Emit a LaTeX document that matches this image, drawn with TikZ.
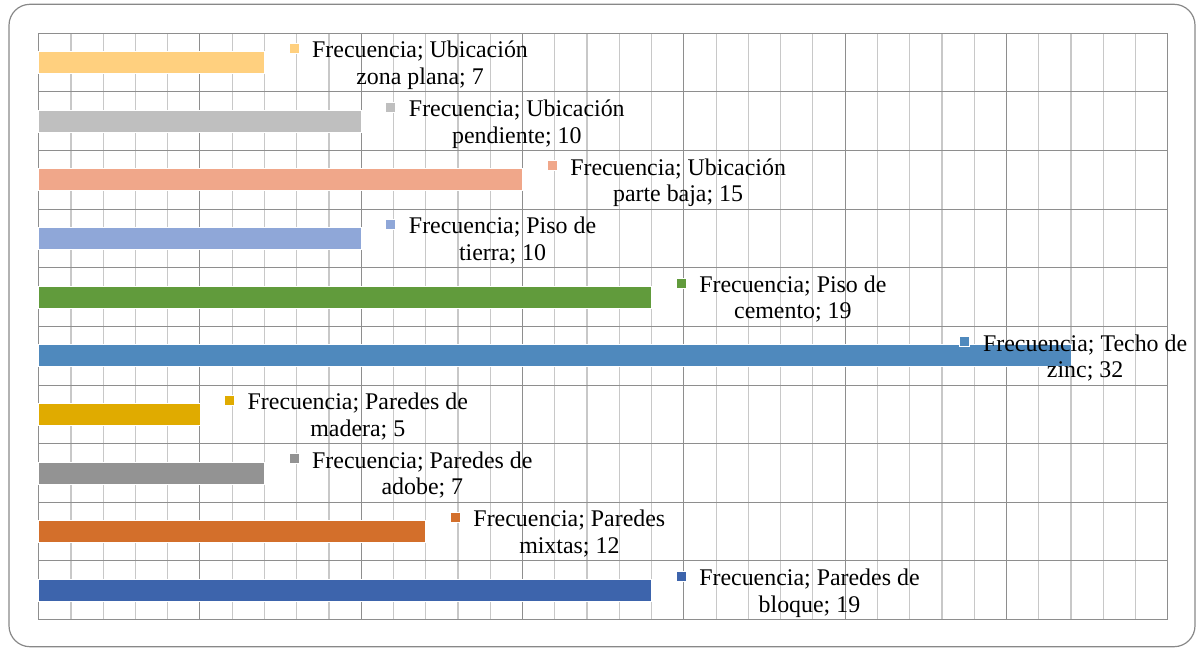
\documentclass[tikz,border=0pt]{standalone}
\usepackage{fontspec}
\setmainfont{Liberation Serif}
\usepackage{tikz}
\usetikzlibrary{positioning}
\definecolor{zonaplana}{HTML}{FFD07F}
\definecolor{pendiente}{HTML}{BFBFBF}
\definecolor{partebaja}{HTML}{F0A78A}
\definecolor{tierra}{HTML}{8FA7D8}
\definecolor{cemento}{HTML}{619B3C}
\definecolor{zinc}{HTML}{4F89BD}
\definecolor{madera}{HTML}{E0AB00}
\definecolor{adobe}{HTML}{939393}
\definecolor{mixtas}{HTML}{D36F2B}
\definecolor{bloque}{HTML}{3D64AC}
\definecolor{gridminor}{HTML}{C8C8C8}
\definecolor{gridmajor}{HTML}{8E8E8E}
\definecolor{frame}{HTML}{888888}
\newcommand{\frecuencia}[1]{\strut Frecuencia; #1\strut}

\begin{document}
\begin{tikzpicture}[x=1pt,y=-1pt,
    bar/.style={rectangle,draw=white,line width=0.8pt,minimum height=22pt,inner sep=0pt,outer sep=0pt,anchor=west},
    lbl/.style={align=center,inner sep=0pt,anchor=west,font=\fontsize{23.9}{26.5}\selectfont},
    key/.style={rectangle,draw=white,line width=0.6pt,minimum size=10pt,inner sep=0pt}]
  \useasboundingbox (0,0) rectangle (1196,648);
  \draw[frame,line width=1.2pt,rounded corners=21pt] (9,4.3) rectangle (1195,646.7);
  \foreach \k in {0,...,35}{
      \pgfmathsetmacro\gx{38.7+\k*32.257}
      \pgfmathtruncatemacro\major{mod(\k,5)==0}
      \ifnum\major=1
        \draw[gridmajor,line width=1pt] (\gx,33.3) -- (\gx,619.5);
      \else
        \draw[gridminor,line width=1.2pt] (\gx,33.3) -- (\gx,619.5);
      \fi
    }
  \foreach \j in {0,...,10}
    \draw[gridmajor,line width=1pt] (38.7,33.3+\j*58.62) -- (1167.7,33.3+\j*58.62);
  \foreach \i/\v/\col/\dx/\txt in {
      1/7/zonaplana/47.5/{Ubicación\\zona plana; 7},
      2/10/pendiente/47.5/{Ubicación\\pendiente; 10},
      3/15/partebaja/47.5/{Ubicación\\parte baja; 15},
      4/10/tierra/47.5/{Piso de\\tierra; 10},
      5/19/cemento/47.5/{Piso de\\cemento; 19},
      6/32/zinc/-88/{Techo de\\zinc; 32},
      7/5/madera/47.5/{Paredes de\\madera; 5},
      8/7/adobe/47.5/{Paredes de\\adobe; 7},
      9/12/mixtas/47.5/{Paredes\\mixtas; 12},
      10/19/bloque/47.5/{Paredes de\\bloque; 19}}{
      \pgfmathsetmacro\yc{33.3+(\i-0.5)*58.62}
      \node[bar,fill=\col,minimum width=\v*32.257pt] (bar\i) at (38.7,\yc) {};
      \node[lbl] (lbl\i) at ([xshift=\dx pt,yshift=-3.3pt]bar\i.east) {\frecuencia{\txt}};
      \node[key,fill=\col] (key\i) at ([xshift=-18.2pt,yshift=17.5pt]lbl\i.west) {};
    }
\end{tikzpicture}
\end{document}
